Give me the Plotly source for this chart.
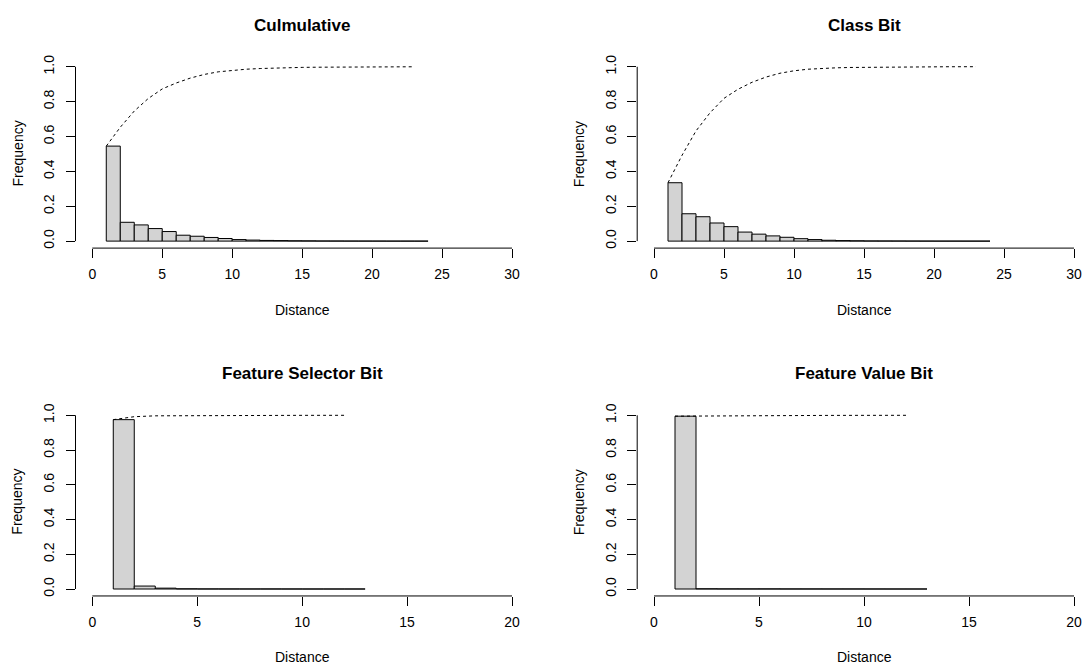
import numpy as np
import plotly.graph_objects as go

# Relative frequency of each distance bin (bins start at 1, width 1)
culm_freq = [0.545, 0.108, 0.093, 0.072, 0.055, 0.034, 0.028, 0.021, 0.015, 0.009,
             0.006, 0.004, 0.003, 0.002, 0.0015, 0.001, 0.0008, 0.0005, 0.0004,
             0.0003, 0.0002, 0.0002, 0.0001]
class_freq = [0.335, 0.157, 0.140, 0.104, 0.083, 0.052, 0.040, 0.030, 0.022, 0.014,
              0.009, 0.005, 0.003, 0.002, 0.0012, 0.001, 0.0008, 0.0005, 0.0003,
              0.0002, 0.0002, 0.0001, 0.0001]
selector_freq = [0.975, 0.017, 0.005, 0.001, 0.0005, 0.0004, 0.0003, 0.0003,
                 0.0002, 0.0001, 0.0001, 0.0001]
value_freq = [0.995, 0.0012, 0.0008, 0.0006, 0.0006, 0.0004, 0.0004, 0.0003,
              0.0003, 0.0002, 0.0001, 0.0001]

titles = ["Culmulative", "Class Bit", "Feature Selector Bit", "Feature Value Bit"]
x_ticks_top = [0, 5, 10, 15, 20, 25, 30]
x_ticks_bottom = [0, 5, 10, 15, 20]
y_ticks = [0.0, 0.2, 0.4, 0.6, 0.8, 1.0]
y_tick_text = ["0.0", "0.2", "0.4", "0.6", "0.8", "1.0"]

W, H = 1085, 670
FONT = "Liberation Sans, Arial, Helvetica, sans-serif"

# plot regions in pixels: left, right, top, bottom, x range, x ticks
panels = [
    dict(freq=culm_freq, l=75.5, r=528.8, t=55.3, b=245.3, xr=[-1.2, 31.2], ticks=x_ticks_top),
    dict(freq=class_freq, l=637.2, r=1085, t=55.3, b=245.3, xr=[-1.2, (1085 - 654) / 14], ticks=x_ticks_top),
    dict(freq=selector_freq, l=75.5, r=528.8, t=407.0, b=596.3, xr=[-0.8, 20.8], ticks=x_ticks_bottom),
    dict(freq=value_freq, l=637.2, r=1085, t=407.0, b=596.3, xr=[-0.8, (1085 - 654) / 21], ticks=x_ticks_bottom),
]

fig = go.Figure()
layout = dict(
    width=W, height=H, margin=dict(l=0, r=0, t=0, b=0),
    paper_bgcolor="white", plot_bgcolor="white", showlegend=False,
    font=dict(family=FONT, size=14, color="black"),
)
shapes, annotations = [], []

for i, (p, title) in enumerate(zip(panels, titles), start=1):
    sfx = "" if i == 1 else str(i)
    xa, ya = "x" + sfx, "y" + sfx
    freq = np.array(p["freq"])
    left_edges = np.arange(1, len(freq) + 1)
    cumulative = np.cumsum(freq)

    fig.add_trace(go.Bar(
        x=left_edges + 0.5, y=freq, width=1.0,
        marker=dict(color="#d3d3d3", line=dict(color="black", width=1)),
        xaxis=xa, yaxis=ya, hoverinfo="skip",
    ))
    fig.add_trace(go.Scatter(
        x=left_edges, y=cumulative, mode="lines",
        line=dict(color="black", width=1, dash="3px,3px"),
        xaxis=xa, yaxis=ya, hoverinfo="skip",
    ))

    layout["xaxis" + sfx] = dict(
        domain=[p["l"] / W, p["r"] / W], range=p["xr"], anchor=ya,
        showgrid=False, zeroline=False, showline=False,
        tickmode="array", tickvals=p["ticks"], ticktext=[str(v) for v in p["ticks"]],
        ticks="outside", ticklen=9, tickwidth=1, tickcolor="black",
        ticklabelstandoff=4, tickfont=dict(size=14, family=FONT, color="black"),
    )
    layout["yaxis" + sfx] = dict(
        domain=[1 - p["b"] / H, 1 - p["t"] / H], range=[-0.04, 1.04], anchor=xa,
        showgrid=False, zeroline=False, showline=False,
        tickmode="array", tickvals=y_ticks, ticktext=y_tick_text, tickangle=-90,
        ticks="outside", ticklen=9, tickwidth=1, tickcolor="black",
        ticklabelstandoff=6, tickfont=dict(size=14, family=FONT, color="black"),
    )

    # detached axis lines spanning only the tick range
    shapes.append(dict(type="line", xref=xa, yref=ya + " domain",
                       x0=p["ticks"][0], x1=p["ticks"][-1], y0=0, y1=0,
                       line=dict(color="black", width=1)))
    shapes.append(dict(type="line", xref=xa + " domain", yref=ya,
                       x0=0, x1=0, y0=0, y1=1,
                       line=dict(color="black", width=1)))

    cx = (p["l"] + p["r"]) / 2 if i % 2 == 1 else 864
    annotations.append(dict(text="<b>" + title + "</b>", xref="paper", yref="paper",
                            x=cx / W, y=1 - (p["t"] - 35) / H, showarrow=False,
                            xanchor="center", yanchor="middle",
                            font=dict(size=17, family=FONT, color="black")))
    annotations.append(dict(text="Distance", xref="paper", yref="paper",
                            x=cx / W, y=1 - (p["b"] + 62) / H, showarrow=False,
                            xanchor="center", yanchor="middle",
                            font=dict(size=14, family=FONT, color="black")))
    annotations.append(dict(text="Frequency", xref="paper", yref="paper",
                            x=(p["l"] - 58) / W, y=1 - ((p["t"] + p["b"]) / 2) / H,
                            showarrow=False, textangle=-90,
                            xanchor="center", yanchor="middle",
                            font=dict(size=14, family=FONT, color="black")))

layout["shapes"] = shapes
layout["annotations"] = annotations
fig.update_layout(**layout)
fig.write_html("out.html")
